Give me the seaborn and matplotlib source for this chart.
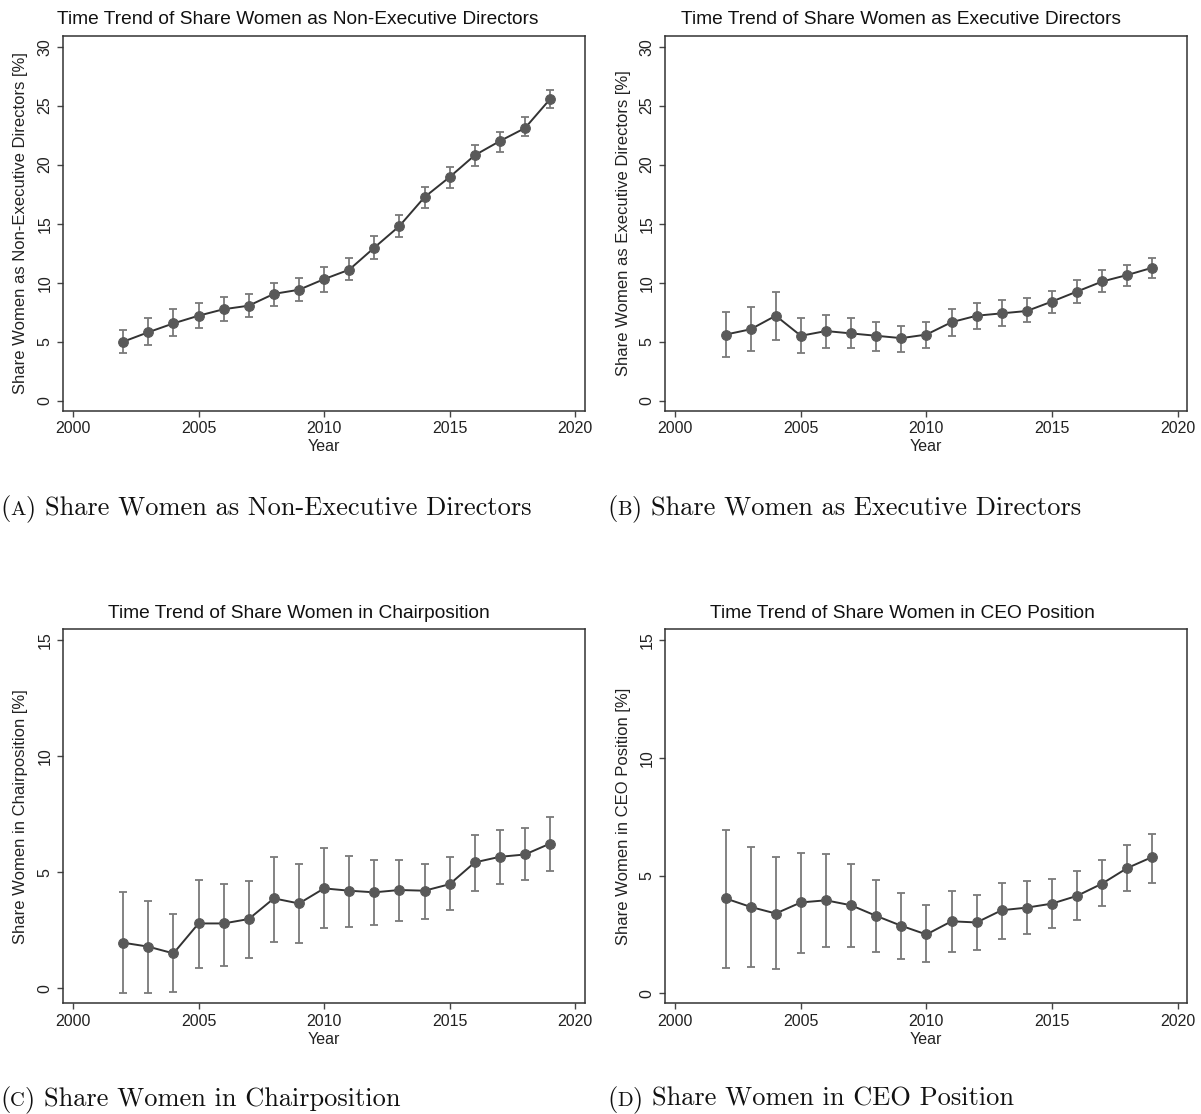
import matplotlib
matplotlib.use("Agg")
import matplotlib.pyplot as plt
import seaborn as sns
import pandas as pd

# ---------------- data ----------------
years = list(range(2002, 2020))

nonexec_mean = [5.0, 5.8, 6.55, 7.2, 7.75, 8.05, 9.05, 9.4, 10.3, 11.1, 12.97, 14.8, 17.25, 18.95, 20.8, 22.0, 23.1, 25.56]
nonexec_hi = [6.0, 7.0, 7.75, 8.25, 8.8, 9.0, 10.0, 10.4, 11.3, 12.1, 13.95, 15.75, 18.1, 19.8, 21.65, 22.8, 24.0, 26.3]
nonexec_lo = [4.0, 4.7, 5.5, 6.2, 6.75, 7.1, 8.05, 8.45, 9.25, 10.2, 12.0, 13.9, 16.3, 18.0, 19.9, 21.1, 22.4, 24.8]

exec_mean = [5.6, 6.05, 7.2, 5.5, 5.9, 5.7, 5.5, 5.3, 5.6, 6.65, 7.2, 7.4, 7.6, 8.4, 9.25, 10.1, 10.65, 11.27]
exec_hi = [7.5, 7.95, 9.2, 7.0, 7.3, 7.0, 6.65, 6.3, 6.65, 7.8, 8.25, 8.5, 8.7, 9.3, 10.2, 11.05, 11.5, 12.1]
exec_lo = [3.7, 4.25, 5.15, 4.0, 4.5, 4.45, 4.25, 4.15, 4.45, 5.5, 6.05, 6.35, 6.65, 7.4, 8.25, 9.2, 9.75, 10.4]

chair_mean = [1.96, 1.79, 1.5, 2.79, 2.79, 2.98, 3.87, 3.65, 4.3, 4.2, 4.13, 4.23, 4.2, 4.48, 5.42, 5.66, 5.76, 6.23]
chair_hi = [4.13, 3.75, 3.18, 4.68, 4.51, 4.61, 5.66, 5.33, 6.05, 5.7, 5.54, 5.54, 5.33, 5.66, 6.62, 6.81, 6.91, 7.39]
chair_lo = [-0.21, -0.21, -0.17, 0.89, 0.97, 1.29, 2.0, 1.96, 2.6, 2.65, 2.72, 2.89, 2.98, 3.37, 4.18, 4.51, 4.68, 5.04]

ceo_mean = [4.03, 3.67, 3.39, 3.86, 3.95, 3.74, 3.29, 2.87, 2.5, 3.06, 3.01, 3.53, 3.64, 3.81, 4.14, 4.66, 5.32, 5.79]
ceo_hi = [6.92, 6.21, 5.79, 5.97, 5.93, 5.47, 4.83, 4.24, 3.77, 4.34, 4.19, 4.7, 4.77, 4.87, 5.18, 5.68, 6.31, 6.78]
ceo_lo = [1.09, 1.13, 1.03, 1.72, 1.98, 1.98, 1.77, 1.48, 1.34, 1.77, 1.84, 2.3, 2.54, 2.78, 3.11, 3.7, 4.34, 4.7]

titles = ["Time Trend of Share Women as Non-Executive Directors",
          "Time Trend of Share Women as Executive Directors",
          "Time Trend of Share Women in Chairposition",
          "Time Trend of Share Women in CEO Position"]
ylabels = ["Share Women as Non-Executive Directors [%]",
           "Share Women as Executive Directors [%]",
           "Share Women in Chairposition [%]",
           "Share Women in CEO Position [%]"]
cap_letters = ["A", "B", "C", "D"]
captions = ["Share Women as Non-Executive Directors",
            "Share Women as Executive Directors",
            "Share Women in Chairposition",
            "Share Women in CEO Position"]
xticks = [2000, 2005, 2010, 2015, 2020]
yticks_top = [0, 5, 10, 15, 20, 25, 30]
yticks_bottom = [0, 5, 10, 15]

# ---------------- style ----------------
sns.set_theme(style="white")
plt.rcParams["font.family"] = ["Liberation Sans", "DejaVu Sans"]

W, H = 1201, 1114
fig = plt.figure(figsize=(W / 100, H / 100), dpi=100)

def px_axes(left, top, right, bottom):
    return fig.add_axes([left / W, 1 - bottom / H, (right - left) / W, (bottom - top) / H])

axes = [px_axes(62.7, 35.7, 585, 410.7),
        px_axes(665, 35.7, 1187.3, 410.7),
        px_axes(62.7, 629.3, 585, 1003.3),
        px_axes(665, 629.3, 1187.3, 1003.3)]

series = [(nonexec_mean, nonexec_lo, nonexec_hi),
          (exec_mean, exec_lo, exec_hi),
          (chair_mean, chair_lo, chair_hi),
          (ceo_mean, ceo_lo, ceo_hi)]
ylims = [(-0.85, 30.93), (-0.85, 30.93), (-0.65, 15.46), (-0.42, 15.45)]
title_pos = [(298, 20), (901, 20), (299, 613), (902, 613)]

for i, ax in enumerate(axes):
    mean, lo, hi = series[i]
    df = pd.DataFrame({"Year": years, "value": mean, "lo": lo, "hi": hi})
    ax.errorbar(df["Year"], df["value"],
                yerr=[df["value"] - df["lo"], df["hi"] - df["value"]],
                fmt="none", ecolor="#7a7a7a", elinewidth=1.3, capsize=3.0,
                capthick=1.3, zorder=2)
    sns.lineplot(data=df, x="Year", y="value", ax=ax, color="#333333",
                 linewidth=1.4, marker="o", markersize=7,
                 markerfacecolor="#595959", markeredgecolor="#595959",
                 zorder=3)
    ax.set_xlim(1999.59, 2020.39)
    ax.set_ylim(*ylims[i])
    ax.set_xticks(xticks)
    ax.set_yticks(yticks_top if i < 2 else yticks_bottom)
    ax.tick_params(axis="both", which="both", direction="out", length=4.5,
                   width=1, color="#444444", labelsize=11.5, labelcolor="#222222",
                   bottom=True, left=True, pad=3)
    for lab in ax.get_yticklabels():
        lab.set_rotation(90)
        lab.set_va("center")
        lab.set_fontsize(11.5)
    for sp in ax.spines.values():
        sp.set_visible(True)
        sp.set_color("#333333")
        sp.set_linewidth(1.1)
    ax.set_xlabel("Year", fontsize=11.5, color="#222222")
    ax.xaxis.label.set_va("center")
    ax.xaxis.set_label_coords(0.5, -0.096)
    ax.set_ylabel(ylabels[i], fontsize=12, color="#222222")
    ax.yaxis.label.set_va("center")
    ax.yaxis.set_label_coords(-0.08, 0.5)
    ax.grid(False)
    tx, ty = title_pos[i]
    fig.text(tx / W, 1 - ty / H, titles[i], ha="center", va="center",
             fontsize=13.8, color="#111111")

# ---------------- captions (small caps letters) ----------------
renderer = fig.canvas.get_renderer()
cap_pos = [(0, 515), (607, 515), (0, 1106), (607, 1106)]
CAP_FS = 19
for i in range(4):
    x, yb = cap_pos[i]
    pieces = [("(", CAP_FS), (cap_letters[i], CAP_FS * 0.78), (")", CAP_FS),
              (" ", CAP_FS), (captions[i], CAP_FS)]
    for s, fs in pieces:
        if s == " ":
            x += fs * 100 / 72 * 0.33
            continue
        t = fig.text(x / W, 1 - yb / H, s, fontsize=fs, family=["cmr10", "DejaVu Serif"],
                     ha="left", va="baseline", color="#111111")
        bb = t.get_window_extent(renderer)
        x += bb.width

fig.savefig("out.png", dpi=100)
